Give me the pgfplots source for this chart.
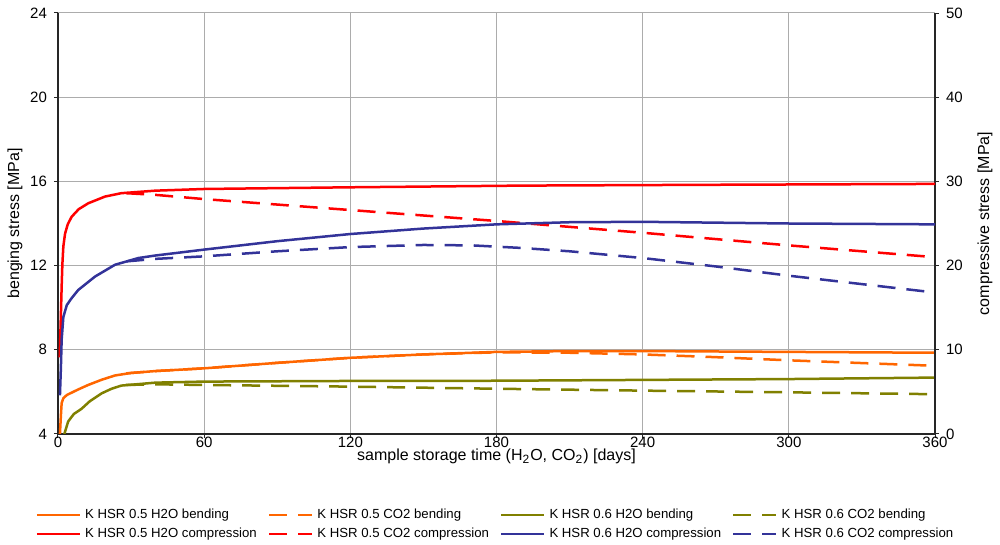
\documentclass[border=0pt]{standalone}
\usepackage{fontspec}
\setmainfont{Liberation Sans}
\usepackage{pgfplots}
\pgfplotsset{compat=1.18}

\definecolor{corange}{RGB}{255,102,0}
\definecolor{cred}{RGB}{255,0,0}
\definecolor{colive}{RGB}{128,128,0}
\definecolor{cblue}{RGB}{51,51,153}

\pgfplotsset{
  common/.style={
    width=438.5pt, height=210.5pt, scale only axis,
    xmin=0, xmax=360,
    /pgf/number format/assume math mode=true,
    tick label style={font=\fontsize{7.5}{9}\selectfont},
    label style={font=\fontsize{8}{10}\selectfont},
    major tick length=2pt,
    tick align=outside,
    axis line style={line width=0.7pt, black!85},
    tick style={black!85, line width=0.5pt},
  },
  sol/.style={line width=1.25pt},
  dsh/.style={line width=1.25pt, dash pattern=on 9pt off 5.5pt},
}

\begin{document}
\begin{tikzpicture}
\useasboundingbox (-29pt,-55.5pt) rectangle (471pt,217pt);

\begin{axis}[
  common,
  ymin=4, ymax=24,
  axis x line*=bottom, axis y line*=left,
  xtick={0,60,...,360}, ytick={4,8,...,24},
  x tick label style={yshift=4pt},
  grid=major, grid style={gray!65, line width=0.5pt},
  xlabel={sample storage time (H\textsubscript{2}O, CO\textsubscript{2}) [days]},
  ylabel={benging stress [MPa]},
  x label style={at={(axis description cs:0.5,-0.054)}, anchor=center},
  y label style={at={(axis description cs:-0.049,0.5)}, anchor=center},
]
% K HSR 0.5 H2O bending
\addplot[corange, sol] coordinates {
  (0.8,4.0) (1.2,4.9) (1.5,5.47) (2.2,5.7) (3.6,5.85) (8,6.1) (12.4,6.33)
  (18,6.58) (23.4,6.78) (30,6.9) (40,6.99) (60,7.12) (90,7.38) (120,7.62)
  (150,7.78) (180,7.9) (210,7.94) (240,7.94) (270,7.92) (300,7.9) (330,7.88) (360,7.86)
};
% K HSR 0.5 CO2 bending
\addplot[corange, dsh] coordinates {
  (28,6.88) (40,6.99) (60,7.12) (90,7.38) (120,7.62) (150,7.78) (180,7.88)
  (210,7.86) (240,7.78) (270,7.65) (300,7.5) (330,7.37) (360,7.24)
};
% K HSR 0.6 H2O bending
\addplot[colive, sol] coordinates {
  (2.6,4.0) (4.2,4.6) (6.5,4.95) (9.7,5.2) (13,5.55) (17.9,5.93) (22,6.15)
  (26,6.3) (34,6.38) (40,6.44) (60,6.49) (120,6.52) (180,6.53) (240,6.57)
  (300,6.61) (360,6.68)
};
% K HSR 0.6 CO2 bending
\addplot[colive, dsh] coordinates {
  (28,6.33) (40,6.36) (60,6.33) (120,6.25) (180,6.15) (240,6.06) (300,5.98) (360,5.89)
};
\end{axis}

\begin{axis}[
  common,
  ymin=0, ymax=50,
  axis y line*=right, axis x line=none,
  ytick={0,10,...,50},
  ylabel={compressive stress [MPa]},
  y label style={at={(axis description cs:1.057,0.5)}, anchor=center},
  legend columns=4,
  legend cell align=left,
  legend style={at={(axis description cs:0.5,-0.158)}, anchor=north, draw=none,
    font=\fontsize{6.6}{7.5}\selectfont, row sep=-1pt,
    /tikz/every odd column/.append style={column sep=0pt},
    /tikz/every even column/.append style={column sep=3.5pt}},
  legend image code/.code={\draw[#1] (0pt,0pt) -- (21.5pt,0pt);},
]
\addlegendimage{corange, sol}
\addlegendentry{K HSR 0.5 H2O bending}
\addlegendimage{corange, dsh}
\addlegendentry{K HSR 0.5 CO2 bending}
\addlegendimage{colive, sol}
\addlegendentry{K HSR 0.6 H2O bending}
\addlegendimage{colive, dsh}
\addlegendentry{K HSR 0.6 CO2 bending}

% K HSR 0.5 H2O compression
\addplot[cred, sol] coordinates {
  (0.7,9.1) (1.1,13.2) (1.5,17.5) (1.8,20.2) (2.2,22.3) (2.9,23.8) (4,24.9)
  (5.6,25.8) (8.5,26.7) (12.4,27.4) (19.3,28.2) (26,28.6) (40,28.9) (60,29.1)
  (120,29.3) (190,29.5) (270,29.6) (360,29.7)
};
\addlegendentry{K HSR 0.5 H2O compression}
% K HSR 0.5 CO2 compression
\addplot[cred, dsh] coordinates {
  (28,28.6) (40,28.4) (60,27.9) (90,27.25) (120,26.6) (150,25.95) (180,25.3)
  (210,24.6) (240,23.9) (270,23.15) (300,22.4) (330,21.7) (360,21.0)
};
\addlegendentry{K HSR 0.5 CO2 compression}
% K HSR 0.6 H2O compression
\addplot[cblue, sol] coordinates {
  (0.8,4.6) (1.2,8) (1.5,11.2) (2.2,13.9) (3.6,15.3) (5.5,16.1) (8.3,17.1)
  (15.2,18.7) (23.4,20.1) (33,20.9) (40,21.2) (60,21.9) (90,22.9) (120,23.75)
  (150,24.4) (180,24.9) (210,25.15) (240,25.2) (270,25.1) (300,25.0) (330,24.95) (360,24.9)
};
\addlegendentry{K HSR 0.6 H2O compression}
% K HSR 0.6 CO2 compression
\addplot[cblue, dsh] coordinates {
  (28,20.5) (40,20.8) (60,21.1) (90,21.7) (120,22.2) (150,22.45) (170,22.4)
  (190,22.1) (210,21.7) (240,20.9) (270,19.9) (300,18.8) (330,17.8) (360,16.8)
};
\addlegendentry{K HSR 0.6 CO2 compression}
\end{axis}
\end{tikzpicture}
\end{document}
